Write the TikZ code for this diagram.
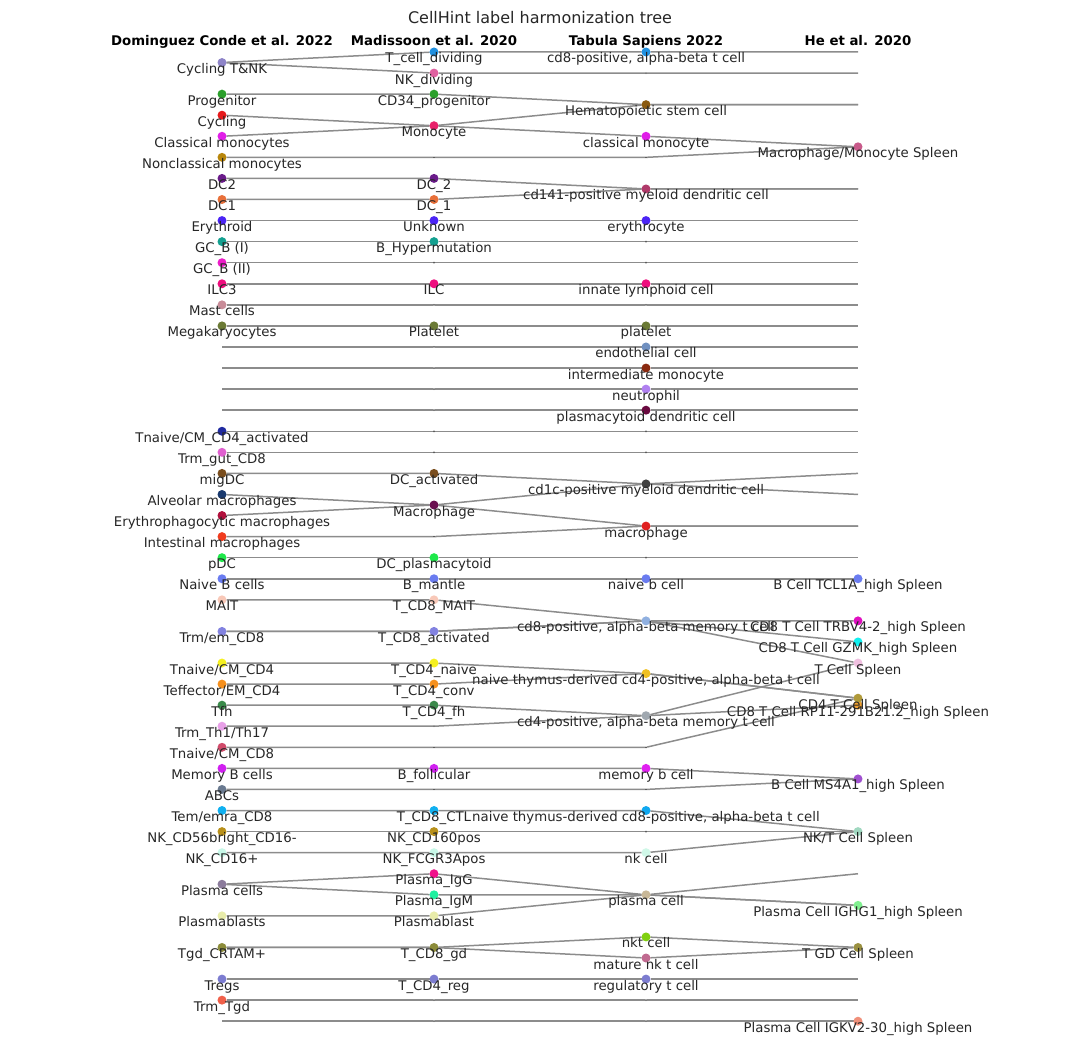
\documentclass[tikz,border=0pt]{standalone}
\usepackage{fontspec}
\setmainfont{DejaVu Sans}
\usetikzlibrary{backgrounds}
\tikzset{
  hex/.code={\definecolor{dotcol}{HTML}{#1}\pgfkeysalso{fill=dotcol}},
  dot/.style={circle, inner sep=0pt, outer sep=0pt, minimum size=9pt, hex=#1},
  lbl/.style={anchor=base, yshift=-6.5pt, inner sep=0pt, text=black!85, font=\fontsize{13.3}{16}\selectfont},
  head/.style={anchor=base, inner sep=0pt, font=\fontsize{13.3}{16}\selectfont\bfseries},
  tick/.style={circle, inner sep=0pt, minimum size=2pt, fill=black!70},
  link/.style={draw=black!45, line width=1.5pt},
}
\begin{document}
\begin{tikzpicture}[x=1pt, y=-21.07pt]
\useasboundingbox (0,-2.468) rectangle (1080,47.46);
\node[anchor=base, inner sep=0pt, text=black!85, font=\fontsize{16}{19}\selectfont] (title) at (540,-1.33) {CellHint label harmonization tree};
\node[head] (hA) at (222,-0.285) {Dominguez Conde et al. 2022};
\node[head] (hB) at (434,-0.285) {Madissoon et al. 2020};
\node[head] (hC) at (646,-0.285) {Tabula Sapiens 2022};
\node[head] (hD) at (858,-0.285) {He et al. 2020};
% Dominguez Conde
\node[dot=8E84C8, label={[lbl]below:Cycling T\&NK}] (aTNK) at (222,0.5) {};
\node[dot=2CA02C, label={[lbl]below:Progenitor}] (aProg) at (222,2) {};
\node[dot=E6191B, label={[lbl]below:Cycling}] (aCyc) at (222,3) {};
\node[dot=E01EE8, label={[lbl]below:Classical monocytes}] (aCM) at (222,4) {};
\node[dot=B8860B, label={[lbl]below:Nonclassical monocytes}] (aNCM) at (222,5) {};
\node[dot=6A1B8A, label={[lbl]below:DC2}] (aDC2) at (222,6) {};
\node[dot=E8703A, label={[lbl]below:DC1}] (aDC1) at (222,7) {};
\node[dot=4B24F5, label={[lbl]below:Erythroid}] (aEry) at (222,8) {};
\node[dot=13A090, label={[lbl]below:GC\_B (I)}] (aGCBi) at (222,9) {};
\node[dot=EC1CC8, label={[lbl]below:GC\_B (II)}] (aGCBii) at (222,10) {};
\node[dot=EE0E7E, label={[lbl]below:ILC3}] (aILC) at (222,11) {};
\node[dot=C88C98, label={[lbl]below:Mast cells}] (aMast) at (222,12) {};
\node[dot=6B7A35, label={[lbl]below:Megakaryocytes}] (aMeg) at (222,13) {};
\node[dot=1F2AA0, label={[lbl]below:Tnaive/CM\_CD4\_activated}] (aTCMa) at (222,18) {};
\node[dot=E060D0, label={[lbl]below:Trm\_gut\_CD8}] (aTrmG) at (222,19) {};
\node[dot=7A4E1E, label={[lbl]below:migDC}] (aMig) at (222,20) {};
\node[dot=1A3A6E, label={[lbl]below:Alveolar macrophages}] (aAlv) at (222,21) {};
\node[dot=B0103C, label={[lbl]below:Erythrophagocytic macrophages}] (aEph) at (222,22) {};
\node[dot=F03C1E, label={[lbl]below:Intestinal macrophages}] (aInt) at (222,23) {};
\node[dot=1EE84A, label={[lbl]below:pDC}] (apDC) at (222,24) {};
\node[dot=6A7CF0, label={[lbl]below:Naive B cells}] (aNB) at (222,25) {};
\node[dot=F8C8B8, label={[lbl]below:MAIT}] (aMAIT) at (222,26) {};
\node[dot=8282E0, label={[lbl]below:Trm/em\_CD8}] (aTrm8) at (222,27.5) {};
\node[dot=F5F020, label={[lbl]below:Tnaive/CM\_CD4}] (aTN4) at (222,29) {};
\node[dot=F5901E, label={[lbl]below:Teffector/EM\_CD4}] (aTE4) at (222,30) {};
\node[dot=3A8A4A, label={[lbl]below:Tfh}] (aTfh) at (222,31) {};
\node[dot=E8A0E8, label={[lbl]below:Trm\_Th1/Th17}] (aTh17) at (222,32) {};
\node[dot=D04A6A, label={[lbl]below:Tnaive/CM\_CD8}] (aTN8) at (222,33) {};
\node[dot=D020F0, label={[lbl]below:Memory B cells}] (aMB) at (222,34) {};
\node[dot=6A7A90, label={[lbl]below:ABCs}] (aABC) at (222,35) {};
\node[dot=10B0F0, label={[lbl]below:Tem/emra\_CD8}] (aTem) at (222,36) {};
\node[dot=B8901A, label={[lbl]below:NK\_CD56bright\_CD16-}] (aNK56) at (222,37) {};
\node[dot=C8F8E8, label={[lbl]below:NK\_CD16+}] (aNK16) at (222,38) {};
\node[dot=8C7C9C, label={[lbl]below:Plasma cells}] (aPC) at (222,39.5) {};
\node[dot=E8ECAA, label={[lbl]below:Plasmablasts}] (aPB) at (222,41) {};
\node[dot=8C8C3A, label={[lbl]below:Tgd\_CRTAM+}] (aTgd) at (222,42.5) {};
\node[dot=7C7CD0, label={[lbl]below:Tregs}] (aTreg) at (222,44) {};
\node[dot=F0604A, label={[lbl]below:Trm\_Tgd}] (aTrmgd) at (222,45) {};
\foreach \r in {14,15,16,17,46} \coordinate (na\r) at (222,\r);
% Madissoon
\node[dot=2090E0, label={[lbl]below:T\_cell\_dividing}] (bTdiv) at (434,0) {};
\node[dot=E060A0, label={[lbl]below:NK\_dividing}] (bNKdiv) at (434,1) {};
\node[dot=2CA02C, label={[lbl]below:CD34\_progenitor}] (bCD34) at (434,2) {};
\node[dot=E8206A, label={[lbl]below:Monocyte}] (bMono) at (434,3.5) {};
\node[dot=6A1B8A, label={[lbl]below:DC\_2}] (bDC2) at (434,6) {};
\node[dot=E8703A, label={[lbl]below:DC\_1}] (bDC1) at (434,7) {};
\node[dot=4B24F5, label={[lbl]below:Unknown}] (bUnk) at (434,8) {};
\node[dot=13A090, label={[lbl]below:B\_Hypermutation}] (bBhyp) at (434,9) {};
\node[dot=EE0E7E, label={[lbl]below:ILC}] (bILC) at (434,11) {};
\node[dot=6B7A35, label={[lbl]below:Platelet}] (bPlt) at (434,13) {};
\node[dot=7A4E1E, label={[lbl]below:DC\_activated}] (bDCa) at (434,20) {};
\node[dot=6A1050, label={[lbl]below:Macrophage}] (bMac) at (434,21.5) {};
\node[dot=1EE84A, label={[lbl]below:DC\_plasmacytoid}] (bpDC) at (434,24) {};
\node[dot=6A7CF0, label={[lbl]below:B\_mantle}] (bBm) at (434,25) {};
\node[dot=F8C8B8, label={[lbl]below:T\_CD8\_MAIT}] (bMAIT) at (434,26) {};
\node[dot=8282E0, label={[lbl]below:T\_CD8\_activated}] (bT8a) at (434,27.5) {};
\node[dot=F5F020, label={[lbl]below:T\_CD4\_naive}] (bT4n) at (434,29) {};
\node[dot=F5901E, label={[lbl]below:T\_CD4\_conv}] (bT4c) at (434,30) {};
\node[dot=3A8A4A, label={[lbl]below:T\_CD4\_fh}] (bT4fh) at (434,31) {};
\node[dot=D020F0, label={[lbl]below:B\_follicular}] (bBf) at (434,34) {};
\node[dot=10B0F0, label={[lbl]below:T\_CD8\_CTL}] (bCTL) at (434,36) {};
\node[dot=B8901A, label={[lbl]below:NK\_CD160pos}] (bNK160) at (434,37) {};
\node[dot=C8F8E8, label={[lbl]below:NK\_FCGR3Apos}] (bNKF) at (434,38) {};
\node[dot=F0108A, label={[lbl]below:Plasma\_IgG}] (bIgG) at (434,39) {};
\node[dot=20F0A0, label={[lbl]below:Plasma\_IgM}] (bIgM) at (434,40) {};
\node[dot=E8ECAA, label={[lbl]below:Plasmablast}] (bPB) at (434,41) {};
\node[dot=8C8C3A, label={[lbl]below:T\_CD8\_gd}] (bgd) at (434,42.5) {};
\node[dot=7C7CD0, label={[lbl]below:T\_CD4\_reg}] (bTreg) at (434,44) {};
\foreach \r in {5,10,12,14,15,...,19,23,32,33,35,45,46} \node[tick] (nb\r) at (434,\r) {};
% Tabula Sapiens
\node[dot=2090E0, label={[lbl]below:{cd8-positive, alpha-beta t cell}}] (cCD8) at (646,0) {};
\node[dot=8A5A10, label={[lbl]below:Hematopoietic stem cell}] (cHSC) at (646,2.5) {};
\node[dot=E01EE8, label={[lbl]below:classical monocyte}] (cCM) at (646,4) {};
\node[dot=B03A6A, label={[lbl]below:cd141-positive myeloid dendritic cell}] (cDC141) at (646,6.5) {};
\node[dot=4B24F5, label={[lbl]below:erythrocyte}] (cEry) at (646,8) {};
\node[dot=EE0E7E, label={[lbl]below:innate lymphoid cell}] (cILC) at (646,11) {};
\node[dot=6B7A35, label={[lbl]below:platelet}] (cPlt) at (646,13) {};
\node[dot=7090C0, label={[lbl]below:endothelial cell}] (cEndo) at (646,14) {};
\node[dot=8A2A10, label={[lbl]below:intermediate monocyte}] (cIM) at (646,15) {};
\node[dot=B080F0, label={[lbl]below:neutrophil}] (cNeu) at (646,16) {};
\node[dot=6A0A40, label={[lbl]below:plasmacytoid dendritic cell}] (cpDC) at (646,17) {};
\node[dot=404040, label={[lbl]below:cd1c-positive myeloid dendritic cell}] (cDC1c) at (646,20.5) {};
\node[dot=E02020, label={[lbl]below:macrophage}] (cMac) at (646,22.5) {};
\node[dot=6A7CF0, label={[lbl]below:naive b cell}] (cNB) at (646,25) {};
\node[dot=90B0E0, label={[lbl]below:{cd8-positive, alpha-beta memory t cell}}] (cCD8m) at (646,27) {};
\node[dot=F0C020, label={[lbl]below:{naive thymus-derived cd4-positive, alpha-beta t cell}}] (cCD4n) at (646,29.5) {};
\node[dot=A0A8B0, label={[lbl]below:{cd4-positive, alpha-beta memory t cell}}] (cCD4m) at (646,31.5) {};
\node[dot=E020F0, label={[lbl]below:memory b cell}] (cMB) at (646,34) {};
\node[dot=10A8F0, label={[lbl]below:{naive thymus-derived cd8-positive, alpha-beta t cell}}] (cCD8n) at (646,36) {};
\node[dot=D0F8E8, label={[lbl]below:nk cell}] (cNK) at (646,38) {};
\node[dot=C8B898, label={[lbl]below:plasma cell}] (cPC) at (646,40) {};
\node[dot=80D010, label={[lbl]below:nkt cell}] (cNKT) at (646,42) {};
\node[dot=C06A90, label={[lbl]below:mature nk t cell}] (cMNKT) at (646,43) {};
\node[dot=7C7CD0, label={[lbl]below:regulatory t cell}] (cTreg) at (646,44) {};
\foreach \r in {1,5,9,10,12,18,19,24,33,35,37,45,46} \node[tick] (nc\r) at (646,\r) {};
% He
\node[dot=C85A8A, label={[lbl]below:Macrophage/Monocyte Spleen}] (dMM) at (858,4.5) {};
\node[dot=6A7CF0, label={[lbl]below:B Cell TCL1A\_high Spleen}] (dBT) at (858,25) {};
\node[dot=E010C0, label={[lbl]below:CD8 T Cell TRBV4-2\_high Spleen}] (dTRBV) at (858,27) {};
\node[dot=10F0F0, label={[lbl]below:CD8 T Cell GZMK\_high Spleen}] (dGZMK) at (858,28) {};
\node[dot=F0C0E0, label={[lbl]below:T Cell Spleen}] (dT) at (858,29) {};
\node[dot=F0A030, label={[lbl]below:CD8 T Cell RP11-291B21.2\_high Spleen}] (dRP) at (858,31) {};
\node[dot=B09A3A, label={[lbl]below:CD4 T Cell Spleen}] (dCD4) at (858,30.67) {};
\node[dot=A050D0, label={[lbl]below:B Cell MS4A1\_high Spleen}] (dMS) at (858,34.5) {};
\node[dot=A0D8C0, label={[lbl]below:NK/T Cell Spleen}] (dNKT) at (858,37) {};
\node[dot=80F090, label={[lbl]below:Plasma Cell IGHG1\_high Spleen}] (dIGHG) at (858,40.5) {};
\node[dot=9A9040, label={[lbl]below:T GD Cell Spleen}] (dTGD) at (858,42.5) {};
\node[dot=F0907A, label={[lbl]below:Plasma Cell IGKV2-30\_high Spleen}] (dIGKV) at (858,46) {};
\foreach \r in {0,1,8,9,...,21,24,39,44,45} \coordinate (nd\r) at (858,\r);
\coordinate (nd2) at (858,2.5);
\coordinate (nd6) at (858,6.5);
\coordinate (nd22) at (858,22.5);
% one path per harmonised row
\begin{scope}[on background layer]
\draw[link] (aTNK) -- (bTdiv) -- (cCD8) -- (nd0);
\draw[link] (aTNK) -- (bNKdiv) -- (nc1) -- (nd1);
\draw[link] (aProg) -- (bCD34) -- (cHSC) -- (nd2);
\draw[link] (aCyc) -- (bMono) -- (cHSC) -- (nd2);
\draw[link] (aCM) -- (bMono) -- (cCM) -- (dMM);
\draw[link] (aNCM) -- (nb5) -- (nc5) -- (dMM);
\draw[link] (aDC2) -- (bDC2) -- (cDC141) -- (nd6);
\draw[link] (aDC1) -- (bDC1) -- (cDC141) -- (nd6);
\draw[link] (aEry) -- (bUnk) -- (cEry) -- (nd8);
\draw[link] (aGCBi) -- (bBhyp) -- (nc9) -- (nd9);
\draw[link] (aGCBii) -- (nb10) -- (nc10) -- (nd10);
\draw[link] (aILC) -- (bILC) -- (cILC) -- (nd11);
\draw[link] (aMast) -- (nb12) -- (nc12) -- (nd12);
\draw[link] (aMeg) -- (bPlt) -- (cPlt) -- (nd13);
\draw[link] (na14) -- (nb14) -- (cEndo) -- (nd14);
\draw[link] (na15) -- (nb15) -- (cIM) -- (nd15);
\draw[link] (na16) -- (nb16) -- (cNeu) -- (nd16);
\draw[link] (na17) -- (nb17) -- (cpDC) -- (nd17);
\draw[link] (aTCMa) -- (nb18) -- (nc18) -- (nd18);
\draw[link] (aTrmG) -- (nb19) -- (nc19) -- (nd19);
\draw[link] (aMig) -- (bDCa) -- (cDC1c) -- (nd20);
\draw[link] (aAlv) -- (bMac) -- (cDC1c) -- (nd21);
\draw[link] (aEph) -- (bMac) -- (cMac) -- (nd22);
\draw[link] (aInt) -- (nb23) -- (cMac) -- (nd22);
\draw[link] (apDC) -- (bpDC) -- (nc24) -- (nd24);
\draw[link] (aNB) -- (bBm) -- (cNB) -- (dBT);
\draw[link] (aMAIT) -- (bMAIT) -- (cCD8m) -- (dT);
\draw[link] (aTrm8) -- (bT8a) -- (cCD8m) -- (dTRBV);
\draw[link] (aTrm8) -- (bT8a) -- (cCD8m) -- (dGZMK);
\draw[link] (aTN4) -- (bT4n) -- (cCD4n) -- (dCD4);
\draw[link] (aTE4) -- (bT4c) -- (cCD4n) -- (dCD4);
\draw[link] (aTfh) -- (bT4fh) -- (cCD4m) -- (dRP);
\draw[link] (aTh17) -- (nb32) -- (cCD4m) -- (dT);
\draw[link] (aTN8) -- (nb33) -- (nc33) -- (dCD4);
\draw[link] (aMB) -- (bBf) -- (cMB) -- (dMS);
\draw[link] (aABC) -- (nb35) -- (nc35) -- (dMS);
\draw[link] (aTem) -- (bCTL) -- (cCD8n) -- (dNKT);
\draw[link] (aNK56) -- (bNK160) -- (nc37) -- (dNKT);
\draw[link] (aNK16) -- (bNKF) -- (cNK) -- (dNKT);
\draw[link] (aPC) -- (bIgG) -- (cPC) -- (nd39);
\draw[link] (aPC) -- (bIgM) -- (cPC) -- (dIGHG);
\draw[link] (aPB) -- (bPB) -- (cPC) -- (dIGHG);
\draw[link] (aTgd) -- (bgd) -- (cNKT) -- (dTGD);
\draw[link] (aTgd) -- (bgd) -- (cMNKT) -- (dTGD);
\draw[link] (aTreg) -- (bTreg) -- (cTreg) -- (nd44);
\draw[link] (aTrmgd) -- (nb45) -- (nc45) -- (nd45);
\draw[link] (na46) -- (nb46) -- (nc46) -- (dIGKV);
\end{scope}
\end{tikzpicture}
\end{document}
